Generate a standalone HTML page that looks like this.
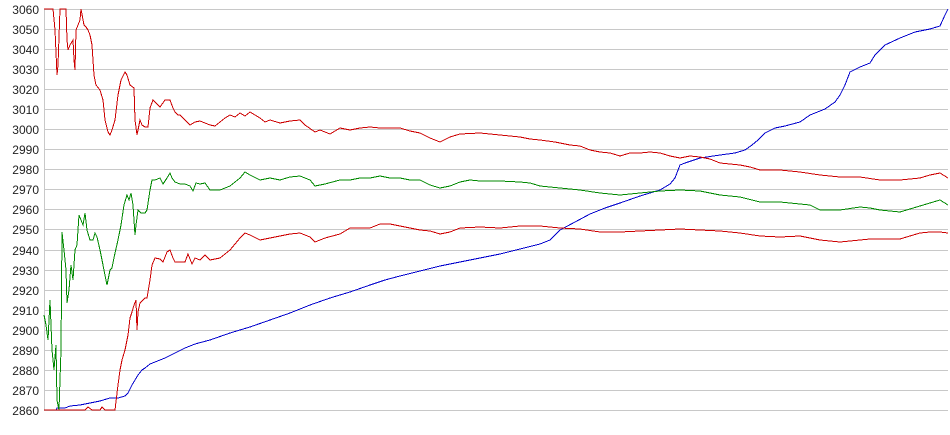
<!DOCTYPE html>
<html><head><meta charset="utf-8"><style>
html,body{margin:0;padding:0;background:#fff;}
svg{display:block;font-family:"Liberation Sans",sans-serif;}
</style></head><body>
<svg width="950" height="435" viewBox="0 0 950 435" xmlns="http://www.w3.org/2000/svg">
<g stroke="#c8c8c8" stroke-width="1" shape-rendering="crispEdges">
<line x1="44" y1="9.5" x2="948" y2="9.5"/><line x1="44" y1="29.5" x2="948" y2="29.5"/><line x1="44" y1="49.5" x2="948" y2="49.5"/><line x1="44" y1="69.5" x2="948" y2="69.5"/><line x1="44" y1="89.5" x2="948" y2="89.5"/><line x1="44" y1="109.5" x2="948" y2="109.5"/><line x1="44" y1="129.5" x2="948" y2="129.5"/><line x1="44" y1="149.5" x2="948" y2="149.5"/><line x1="44" y1="169.5" x2="948" y2="169.5"/><line x1="44" y1="189.5" x2="948" y2="189.5"/><line x1="44" y1="209.5" x2="948" y2="209.5"/><line x1="44" y1="229.5" x2="948" y2="229.5"/><line x1="44" y1="250.5" x2="948" y2="250.5"/><line x1="44" y1="270.5" x2="948" y2="270.5"/><line x1="44" y1="290.5" x2="948" y2="290.5"/><line x1="44" y1="310.5" x2="948" y2="310.5"/><line x1="44" y1="330.5" x2="948" y2="330.5"/><line x1="44" y1="350.5" x2="948" y2="350.5"/><line x1="44" y1="370.5" x2="948" y2="370.5"/><line x1="44" y1="390.5" x2="948" y2="390.5"/><line x1="44" y1="410.5" x2="948" y2="410.5"/>
<line x1="44.5" y1="9" x2="44.5" y2="411"/>
</g>
<g font-size="12" fill="#222" text-anchor="end">
<text x="39" y="14">3060</text><text x="39" y="34">3050</text><text x="39" y="54">3040</text><text x="39" y="74">3030</text><text x="39" y="94">3020</text><text x="39" y="114">3010</text><text x="39" y="134">3000</text><text x="39" y="154">2990</text><text x="39" y="174">2980</text><text x="39" y="194">2970</text><text x="39" y="214">2960</text><text x="39" y="234">2950</text><text x="39" y="255">2940</text><text x="39" y="275">2930</text><text x="39" y="295">2920</text><text x="39" y="315">2910</text><text x="39" y="335">2900</text><text x="39" y="355">2890</text><text x="39" y="375">2880</text><text x="39" y="395">2870</text><text x="39" y="415">2860</text>
</g>
<g fill="none" stroke-width="1" shape-rendering="crispEdges">
<polyline stroke="#0000cc" points="44,410 56,410 57,408 65,408 70,406 80,405 90,403 100,401 110,398 118,398 125,396 128,393 132,385 135,380 138,375 142,370 145,368 150,364 155,362 165,358 175,353 185,348 195,344 210,340 230,333 250,327 270,320 290,313 310,305 330,298 350,292 370,285 385,280 400,276 420,271 440,266 460,262 480,258 500,254 520,249 540,244 550,240 560,230 575,222 590,214 605,208 620,203 640,196 660,190 670,184 675,178 680,165 685,163 700,158 720,155 735,153 745,150 752,145 758,140 765,133 775,128 785,126 800,122 810,115 825,109 835,102 840,95 845,85 850,72 860,67 870,63 875,55 885,45 900,38 915,32 930,29 940,26 945,15 948,9"/>
<polyline stroke="#cc0000" points="44,9 53,9 55,30 57,75 58,65 60,9 66,9 67,40 68,50 70,45 73,40 74,60 75,70 76,30 78,25 80,20 81,9 84,25 86,27 88,30 90,35 92,45 94,75 96,85 100,90 103,100 105,120 108,132 110,135 112,130 115,120 118,95 121,80 125,72 127,75 130,85 134,88 135,120 137,135 140,120 142,125 145,127 148,127 150,108 153,100 155,102 160,107 165,100 170,100 173,108 175,112 178,115 180,115 185,120 190,125 195,122 200,121 210,125 215,126 225,118 230,115 235,117 240,113 245,116 250,112 260,118 265,122 270,120 280,123 290,121 300,120 305,125 315,132 320,130 330,134 340,128 350,130 360,128 370,127 380,128 390,128 400,128 410,131 420,133 430,138 440,142 450,137 460,134 480,133 500,135 520,137 530,139 540,140 555,142 570,145 580,146 590,150 600,152 610,153 620,156 630,153 640,153 650,152 660,153 670,156 680,158 690,156 700,157 710,159 720,163 740,165 750,167 760,170 780,170 800,172 820,175 840,177 860,177 880,180 900,180 920,178 930,175 940,173 948,178"/>
<polyline stroke="#008800" points="44,315 46,325 48,340 50,300 52,350 54,370 56,345 57,400 59,410 60,380 61,350 62,232 64,250 66,270 67,303 69,290 71,265 73,280 75,250 77,245 79,215 81,220 83,225 85,213 87,230 90,240 93,240 95,233 97,237 100,250 103,265 107,285 110,270 112,268 115,253 118,240 121,225 124,205 127,195 129,200 131,193 133,205 135,235 136,225 138,210 141,213 145,213 147,210 150,190 152,180 155,180 160,178 163,184 167,178 170,173 172,178 175,182 180,184 185,184 190,186 193,191 196,183 200,184 205,183 210,190 220,190 230,186 240,178 245,172 250,175 260,180 270,178 280,180 290,177 300,176 310,180 315,186 325,184 340,180 350,180 360,178 370,178 380,176 390,178 400,178 410,180 420,180 430,185 440,188 450,186 460,182 470,180 480,181 500,181 520,182 530,183 540,186 560,188 580,190 600,193 620,195 640,193 660,191 680,190 700,191 720,195 740,197 760,202 780,202 800,204 810,205 820,210 840,210 860,207 870,208 880,210 900,212 920,206 930,203 940,200 948,205"/>
<polyline stroke="#cc0000" points="44,410 85,410 88,407 92,410 100,410 102,407 105,410 115,410 118,385 120,370 122,360 125,350 128,335 130,318 132,312 134,305 136,300 137,330 138,312 140,303 143,300 145,298 147,298 150,280 152,265 155,258 160,259 163,262 167,252 170,250 173,258 175,262 180,262 185,262 188,254 192,264 195,258 200,260 205,255 210,260 220,258 230,250 240,238 245,233 250,235 260,240 270,238 280,236 290,234 300,233 310,237 315,242 325,238 340,234 350,228 360,228 370,228 380,224 390,224 400,226 410,228 420,230 430,231 440,234 450,232 460,228 480,227 500,228 520,226 540,226 560,228 580,229 600,232 620,232 640,231 660,230 680,229 700,230 720,231 740,233 760,236 780,237 800,236 820,240 840,242 860,240 870,239 880,239 900,239 920,233 930,232 940,232 948,233"/>
</g>
</svg>
</body></html>
